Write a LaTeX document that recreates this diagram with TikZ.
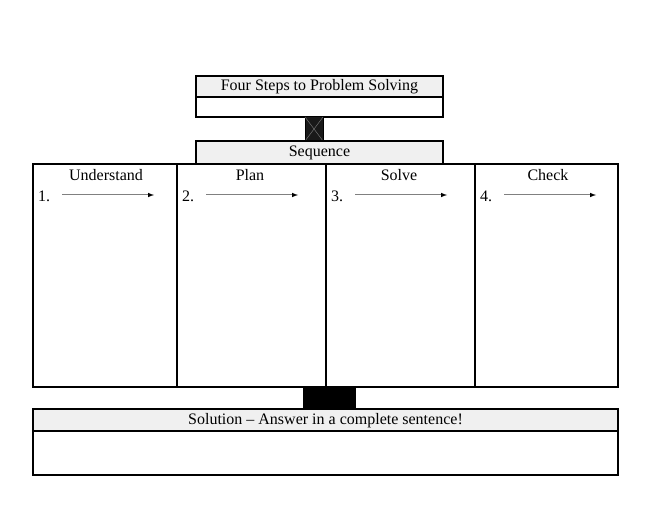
\documentclass[tikz,border=0pt]{standalone}
\usepackage{fontspec}
\setmainfont{Liberation Serif}
\usetikzlibrary{positioning}
\definecolor{headgray}{RGB}{240,240,240}
\tikzset{
  headbox/.style={draw,line width=1.5pt,fill=headgray},
  plainbox/.style={draw,line width=1.5pt},
  steparrow/.style={gray,line width=1pt,-{latex[black]}},
  label/.style={font=\fontsize{16}{19}\selectfont,inner sep=0pt}
}
\begin{document}
\begin{tikzpicture}[x=1pt,y=-1pt]
  \useasboundingbox (0,0) rectangle (660,510);
  % title box
  \draw[headbox] (196,76) rectangle (443,97);
  \draw[plainbox] (196,97) rectangle (443,117);
  \node[label] (title) at (319.5,87) {Four Steps to Problem Solving};
  % link to sequence
  \draw[fill=black!90,line width=1pt] (305,117) rectangle (323,141);
  \draw[gray] (305,117) -- (323,141) (323,117) -- (305,141);
  \draw[headbox] (196,141) rectangle (443,164);
  \node[label] (seq) at (319.5,152.5) {Sequence};
  % steps
  \draw[plainbox] (33,164) rectangle (618,387);
  \foreach \x in {177,326,475} \draw[line width=1.5pt] (\x,164) -- (\x,387);
  \foreach \x/\n/\t in {33/1/Understand,177/2/Plan,326/3/Solve,475/4/Check}{
    \node[label] (head\n) at ({(\x+\x+146)/2},175.5) {\t};
    \node[label,anchor=west] (num\n) at (\x+5,196) {\n.};
    \coordinate (a\n) at (\x+29,195);
    \coordinate (b\n) at (\x+121,195);
    \draw[steparrow] (a\n) -- (b\n);
  }
  % link to solution
  \fill[black] (303,387) rectangle (356,409);
  \draw[headbox] (33,409) rectangle (618,431);
  \draw[plainbox] (33,431) rectangle (618,475);
  \node[label] (sol) at (325.5,420.5) {Solution -- Answer in a complete sentence!};
\end{tikzpicture}
\end{document}
